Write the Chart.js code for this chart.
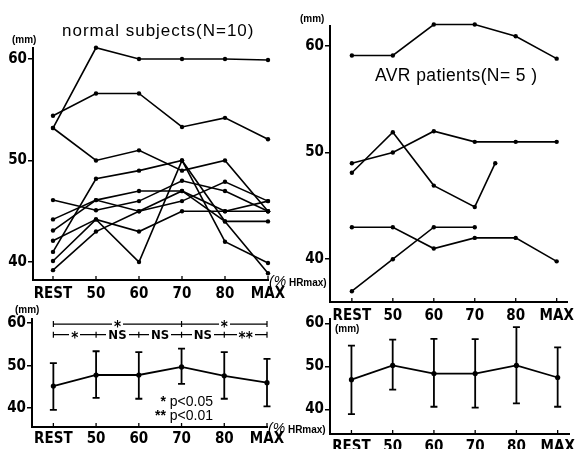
<!DOCTYPE html>
<html>
<head>
<meta charset="utf-8">
<script src="https://cdn.jsdelivr.net/npm/chart.js@4.4.0/dist/chart.umd.min.js"></script>
<style>
	body { margin: 0; background: #fff; }
	#wrap { position: relative; width: 579px; height: 449px; overflow: hidden; }
	canvas { position: absolute; left: 0; top: 0; }
	.t { position: absolute; white-space: nowrap; line-height: 1; color: #000;
		font-family: 'Liberation Sans', Arial, sans-serif; }
	.mm { font-size: 10px; font-weight: bold; }
</style>
</head>
<body>
<div id="wrap">
	<canvas id="tl" width="579" height="449"></canvas>
	<canvas id="tr" width="579" height="449"></canvas>
	<canvas id="bl" width="579" height="449"></canvas>
	<canvas id="br" width="579" height="449"></canvas>

	<div class="t" style="left:62px; top:22px; font-size:17px; letter-spacing:1px;">normal subjects(N=10)</div>
	<div class="t" style="left:375px; top:67px; font-size:17.5px; letter-spacing:0.4px;">AVR patients(N= 5 )</div>
	<div class="t mm" style="left:12px; top:35px;">(mm)</div>
	<div class="t mm" style="left:300px; top:14px;">(mm)</div>
	<div class="t mm" style="left:15px; top:305px;">(mm)</div>
	<div class="t mm" style="left:335px; top:324px;">(mm)</div>
	<div class="t" style="left:269px; top:273px;"><span style="font-size:14px; font-style:italic;">(%</span><span style="font-size:10px; font-weight:bold;"> HRmax)</span></div>
	<div class="t" style="left:268px; top:420px;"><span style="font-size:14px; font-style:italic;">(%</span><span style="font-size:10px; font-weight:bold;"> HRmax)</span></div>
	<div class="t" style="left:140px; width:73px; text-align:right; top:394px; font-size:14px;"><b>*</b> p&lt;0.05</div>
	<div class="t" style="left:140px; width:73px; text-align:right; top:408px; font-size:14px;"><b>**</b> p&lt;0.01</div>
</div>

<script>
// x categories as numbers so the AVR point at 75 can sit between 70 and 80
const xLabels = ['REST', '50', '60', '70', '80', 'MAX'];
const xPos = [40, 50, 60, 70, 80, 90];
const yTicks = [40, 50, 60];

// normal subjects, one array per subject (mm)
const normal1 = [53.2, 61.1, 60, 60, 60, 59.9];
const normal2 = [54.4, 56.6, 56.6, 53.3, 54.2, 52.1];
const normal3 = [53.2, 50, 51, 49, 50, 45];
const normal4 = [41.0, 48.2, 49, 50, 42, 39.9];
const normal5 = [42.1, 44.2, 40, 50, 44, 38.9];
const normal6 = [46.1, 45.1, 46, 48, 47, 45];
const normal7 = [44.2, 46.1, 47, 47, 44, 44];
const normal8 = [43.1, 46.1, 45, 46, 47.9, 46];
const normal9 = [40.1, 44.2, 43, 45, 45, 46];
const normal10 = [39.2, 43, 45, 47, 45, 45];

// AVR patients
const avr1 = [59.1, 59.1, 62.0, 62.0, 60.9, 58.8];
const avr2 = [49, 50, 52, 51, 51, 51];
const avr3 = [48.1, 51.9, 46.9, 44.9, 49];
const avr3X = [40, 50, 60, 70, 75];
const avr4 = [43, 43, 41, 42, 42, 39.8];
const avr5 = [37.0, 40, 43, 43];

// mean +- SD
const normalMean = [45.2, 47.8, 47.8, 49.7, 47.6, 46.0];
const normalHi = [50.6, 53.4, 53.2, 54.0, 53.2, 51.6];
const normalLo = [39.6, 42.4, 42.2, 45.7, 42.2, 40.4];
const avrMean = [46.9, 50.2, 48.3, 48.3, 50.2, 47.4];
const avrHi = [54.8, 56.2, 56.4, 56.3, 59.1, 54.4];
const avrLo = [38.9, 44.6, 40.6, 40.4, 41.4, 40.6];

// significance brackets (normal subjects)
const sigUpperTicks = [40, 70, 90];
const sigUpperLabels = ['*', '*'];
const sigLowerTicks = [40, 50, 60, 70, 80, 90];
const sigLowerLabels = ['*', 'NS', 'NS', 'NS', '**'];

const FONT = "'Liberation Sans Narrow', 'DejaVu Sans Condensed', 'Liberation Sans', sans-serif";
Chart.defaults.color = '#000';

const toPoints = (ys, xs = xPos) => ys.map((y, i) => ({x: xs[i], y: y}));

const lineSet = (ys, xs, width = 1.6, radius = 2.2) => ({
	data: toPoints(ys, xs),
	borderColor: '#000',
	backgroundColor: '#000',
	borderWidth: width,
	pointRadius: radius,
	pointBorderWidth: 0,
	tension: 0,
	clip: false
});

// small upward tick marks on the x axis
const xTickMarks = {
	id: 'xTickMarks',
	afterDraw(chart) {
		const {ctx, chartArea, scales: {x}} = chart;
		ctx.save();
		ctx.strokeStyle = '#000';
		ctx.lineWidth = 1.3;
		ctx.beginPath();
		xPos.forEach(v => {
			const px = x.getPixelForValue(v);
			ctx.moveTo(px, chartArea.bottom);
			ctx.lineTo(px, chartArea.bottom - 4);
		});
		ctx.stroke();
		ctx.restore();
	}
};

const errorBars = {
	id: 'errorBars',
	afterDatasetsDraw(chart, args, opts) {
		const {ctx, scales: {x, y}} = chart;
		ctx.save();
		ctx.strokeStyle = '#000';
		ctx.lineWidth = 1.8;
		opts.hi.forEach((h, i) => {
			const px = x.getPixelForValue(xPos[i]);
			const top = y.getPixelForValue(h);
			const bot = y.getPixelForValue(opts.lo[i]);
			ctx.beginPath();
			ctx.moveTo(px, top); ctx.lineTo(px, bot);
			ctx.moveTo(px - 3.5, top); ctx.lineTo(px + 3.5, top);
			ctx.moveTo(px - 3.5, bot); ctx.lineTo(px + 3.5, bot);
			ctx.stroke();
		});
		ctx.restore();
	}
};

const brackets = {
	id: 'brackets',
	afterDatasetsDraw(chart, args, opts) {
		const {ctx, scales: {x, y}} = chart;
		ctx.save();
		ctx.strokeStyle = '#000';
		ctx.fillStyle = '#000';
		ctx.lineWidth = 1.2;
		ctx.textAlign = 'center';
		ctx.textBaseline = 'middle';
		opts.rows.forEach(row => {
			const py = y.getPixelForValue(row.level);
			const xs = row.ticks.map(v => x.getPixelForValue(v));
			ctx.beginPath();
			ctx.moveTo(xs[0], py); ctx.lineTo(xs[xs.length - 1], py);
			xs.forEach(px => { ctx.moveTo(px, py - 3); ctx.lineTo(px, py + 3); });
			ctx.stroke();
			row.labels.forEach((lab, i) => {
				const mx = (xs[i] + xs[i + 1]) / 2;
				const ns = lab === 'NS';
				ctx.font = ns ? 'bold 13px ' + FONT : 'bold 15px ' + FONT;
				const w = ctx.measureText(lab).width + 4;
				ctx.clearRect(mx - w / 2, py - 2, w, 4);
				ctx.fillText(lab, mx, ns ? py + 0.5 : py + 4);
			});
		});
		ctx.restore();
	}
};

const makeChart = (id, datasets, box, extraPlugins, pluginOpts) => {
	const ctx = document.getElementById(id).getContext('2d');
	return new Chart(ctx, {
		type: 'line',
		data: { datasets: datasets },
		options: {
			responsive: false,
			animation: false,
			events: [],
			layout: {
				padding: {
					left: box.left - 30,
					top: box.top,
					right: 579 - box.right,
					bottom: 449 - box.bottom - box.xh
				}
			},
			plugins: Object.assign({ legend: {display: false}, tooltip: {enabled: false} }, pluginOpts),
			scales: {
				x: {
					type: 'linear',
					min: box.xMin,
					max: box.xMax,
					afterFit: s => { s.height = box.xh; },
					afterBuildTicks: s => { s.ticks = xPos.map(v => ({value: v})); },
					ticks: {
						callback: v => xLabels[xPos.indexOf(v)],
						font: {family: FONT, size: 15, weight: 'bold'},
						color: '#000',
						padding: box.xpad,
						maxRotation: 0,
						autoSkip: false
					},
					grid: {display: false, drawTicks: false},
					border: {display: true, color: '#000', width: 2}
				},
				y: {
					min: box.yMin,
					max: box.yMax,
					afterFit: s => { s.width = 30; },
					afterBuildTicks: s => { s.ticks = yTicks.map(v => ({value: v})); },
					ticks: {
						font: {family: FONT, size: 15, weight: 'bold'},
						color: '#000',
						padding: 1
					},
					grid: {display: true, drawOnChartArea: false, drawTicks: true, tickLength: 5, color: '#000', lineWidth: 1.5},
					border: {display: true, color: '#000', width: 2}
				}
			}
		},
		plugins: [xTickMarks].concat(extraPlugins)
	});
};

const normalSets = [normal1, normal2, normal3, normal4, normal5, normal6, normal7, normal8, normal9, normal10]
	.map(s => lineSet(s, xPos));

makeChart('tl', normalSets,
	{left: 33, right: 268, top: 48, bottom: 280, xh: 24, xpad: 5, xMin: 35.35, xMax: 90, yMin: 38.23, yMax: 61.08},
	[], {});

makeChart('tr', [
		lineSet(avr1, xPos),
		lineSet(avr2, xPos),
		lineSet(avr3, avr3X),
		lineSet(avr4, xPos),
		lineSet(avr5, xPos)
	],
	{left: 330, right: 577, top: 26, bottom: 302, xh: 24, xpad: 5, xMin: 34.66, xMax: 92.6, yMin: 35.99, yMax: 61.86},
	[], {});

makeChart('bl', [lineSet(normalMean, xPos, 1.8, 2.6)],
	{left: 32, right: 267, top: 319, bottom: 427, xh: 22, xpad: 3, xMin: 35.0, xMax: 90, yMin: 35.54, yMax: 61.0},
	[errorBars, brackets],
	{
		errorBars: {hi: normalHi, lo: normalLo},
		brackets: {rows: [
			{level: 59.8, ticks: sigUpperTicks, labels: sigUpperLabels},
			{level: 57.3, ticks: sigLowerTicks, labels: sigLowerLabels}
		]}
	});

makeChart('br', [lineSet(avrMean, xPos, 1.8, 2.6)],
	{left: 330, right: 577, top: 319, bottom: 434, xh: 15, xpad: 4, xMin: 34.8, xMax: 92.9, yMin: 34.26, yMax: 61.0},
	[errorBars],
	{ errorBars: {hi: avrHi, lo: avrLo} });
</script>
</body>
</html>
